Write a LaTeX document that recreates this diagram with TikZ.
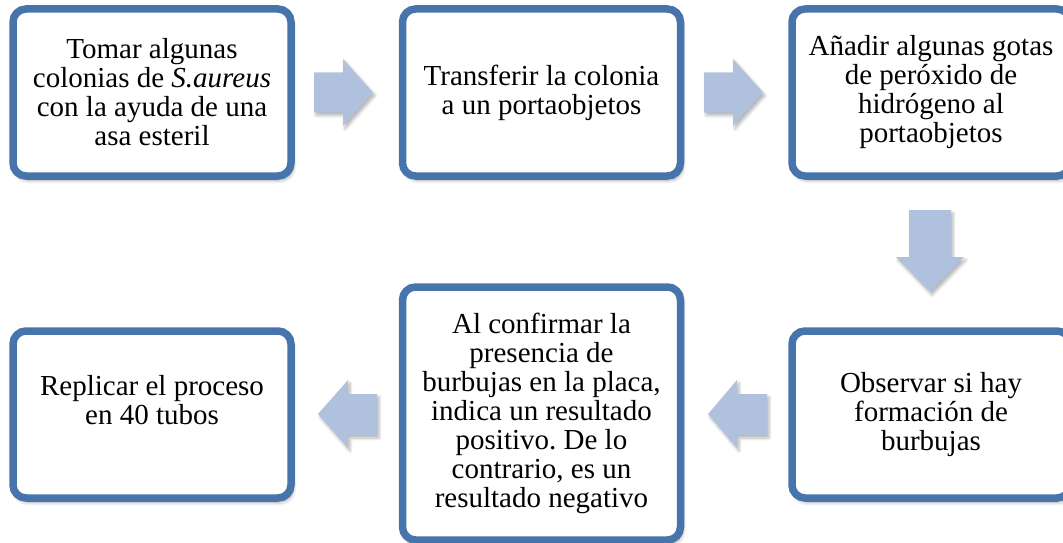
\documentclass[tikz,border=0pt]{standalone}
\usepackage{fontspec}
\setmainfont{Liberation Serif}
\usetikzlibrary{shadows.blur}
\definecolor{boxborder}{RGB}{71,117,171}
\definecolor{arrowfill}{RGB}{176,193,222}
\frenchspacing
\tikzset{
  softshadow/.style={blur shadow={shadow xshift=2pt, shadow yshift=-4pt, shadow blur steps=8, shadow blur radius=4pt, shadow opacity=35}},
  stepbox/.style={draw=boxborder, line width=7.5pt, rounded corners=13pt, fill=white,
    minimum width=278pt, minimum height=167pt, align=center, inner sep=0pt,
    font=\fontsize{29}{29}\selectfont, softshadow},
  blockarrow/.style={fill=arrowfill, draw=none, blur shadow={shadow xshift=2pt, shadow yshift=-3pt, shadow blur steps=6, shadow blur radius=3pt, shadow opacity=30}}
}
\begin{document}
\begin{tikzpicture}[x=1pt,y=-1pt]
\useasboundingbox (0,0) rectangle (1063,543);
% boxes
\node[stepbox] (b1) at (152,92.5) {Tomar algunas\\colonias de \textit{S.aureus}\\con la ayuda de una\\asa esteril};
\node[stepbox] (b2) at (541.5,92.5) {Transferir la colonia\\a un portaobjetos};
\node[stepbox] (b3) at (931,92.5) {Añadir algunas gotas\\de peróxido de\\hidrógeno al\\portaobjetos};
\node[stepbox] (b4) at (931,414.5) {Observar si hay\\formación de\\burbujas};
\node[stepbox, minimum height=253pt] (b5) at (541.5,413.5) {Al confirmar la\\presencia de\\burbujas en la placa,\\indica un resultado\\positivo. De lo\\contrario, es un\\resultado negativo};
\node[stepbox] (b6) at (152,414.5) {Replicar el proceso\\en 40 tubos\\\mbox{}};
% block arrows
\fill[blockarrow] (314,72.5) -- (343,72.5) -- (343,59) -- (373,92.5) -- (343,126) -- (343,112.5) -- (314,112.5) -- cycle;
\fill[blockarrow] (704,72.5) -- (733,72.5) -- (733,59) -- (763,92.5) -- (733,126) -- (733,112.5) -- (704,112.5) -- cycle;
\fill[blockarrow] (909,210) -- (951,210) -- (951,257) -- (964,257) -- (930,292) -- (896,257) -- (909,257) -- cycle;
\fill[blockarrow] (767,394) -- (737,394) -- (737,380) -- (708,414) -- (737,448) -- (737,435) -- (767,435) -- cycle;
\fill[blockarrow] (377,394) -- (348,394) -- (348,380) -- (318,414) -- (348,448) -- (348,435) -- (377,435) -- cycle;
\end{tikzpicture}
\end{document}
